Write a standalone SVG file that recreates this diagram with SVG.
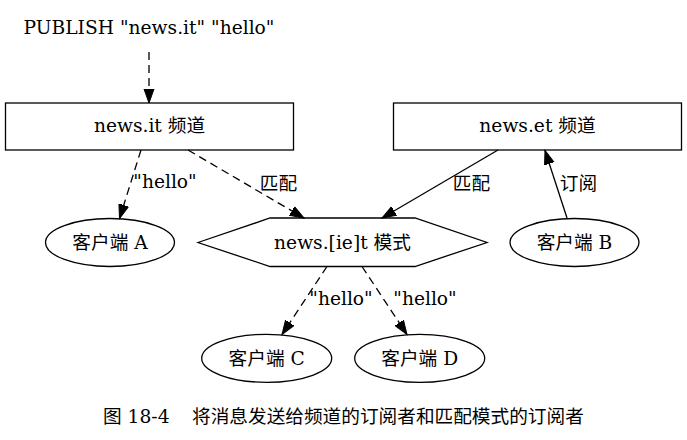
<svg xmlns="http://www.w3.org/2000/svg" width="687" height="440" viewBox="0 0 687 440">
<style>
text{font-family:"DejaVu Serif","Noto Sans CJK SC",serif;font-size:18.67px;fill:#000}
.m{text-anchor:middle}
.shape{fill:none;stroke:#000;stroke-width:1.3}
.e{fill:none;stroke:#000;stroke-width:1.3}
.d{stroke-dasharray:8,5}
</style>
<defs>
<marker id="ah" markerUnits="userSpaceOnUse" markerWidth="16" markerHeight="12" refX="14" refY="6" orient="auto" viewBox="0 0 16 12">
<path d="M0,1 L14,6 L0,11 z" fill="#000" stroke="#000" stroke-width="1"/>
</marker>
</defs>
<rect width="687" height="440" fill="#fff"/>
<g id="publish"><text class="m" x="149" y="34">PUBLISH "news.it" "hello"</text></g>
<g id="news-it"><rect class="shape" x="5.5" y="103" width="288" height="47"/><text class="m" x="149.5" y="132">news.it 频道</text></g>
<g id="news-et"><rect class="shape" x="393.5" y="103" width="288" height="47"/><text class="m" x="537.5" y="132">news.et 频道</text></g>
<g id="pattern"><polygon class="shape" points="198,242.5 270,218 415,218 487,242.5 415,266.5 270,266.5"/><text class="m" x="342.5" y="249">news.[ie]t 模式</text></g>
<g id="client-a"><ellipse class="shape" cx="110" cy="242.5" rx="64.5" ry="24"/><text class="m" x="110" y="249">客户端 A</text></g>
<g id="client-b"><ellipse class="shape" cx="574.5" cy="242.5" rx="64.5" ry="24"/><text class="m" x="574.5" y="249">客户端 B</text></g>
<g id="client-c"><ellipse class="shape" cx="266.7" cy="358.3" rx="65" ry="24"/><text class="m" x="266.7" y="365">客户端 C</text></g>
<g id="client-d"><ellipse class="shape" cx="419.7" cy="358.3" rx="65" ry="24"/><text class="m" x="419.7" y="365">客户端 D</text></g>
<g id="connectors">
<line class="e d" x1="149" y1="52" x2="149" y2="103" marker-end="url(#ah)"/>
<line class="e d" x1="141" y1="150" x2="119.5" y2="218.5" marker-end="url(#ah)"/>
<text class="m" x="165" y="188">"hello"</text>
<line class="e d" x1="188" y1="150" x2="304" y2="218" marker-end="url(#ah)"/>
<text class="m" x="278.5" y="190">匹配</text>
<line class="e" x1="498" y1="150" x2="382" y2="218" marker-end="url(#ah)"/>
<text class="m" x="471.5" y="190">匹配</text>
<line class="e" x1="567" y1="218" x2="545" y2="150.5" marker-end="url(#ah)"/>
<text class="m" x="578.5" y="190">订阅</text>
<line class="e d" x1="327" y1="266.5" x2="282" y2="334.5" marker-end="url(#ah)"/>
<text class="m" x="341" y="305">"hello"</text>
<line class="e d" x1="362" y1="266.5" x2="407" y2="334.5" marker-end="url(#ah)"/>
<text class="m" x="425" y="305">"hello"</text>
</g>
<g id="caption">
<text x="103" y="423">图 18-4</text>
<text x="192" y="423">将消息发送给频道的订阅者和匹配模式的订阅者</text>
</g>
</svg>
